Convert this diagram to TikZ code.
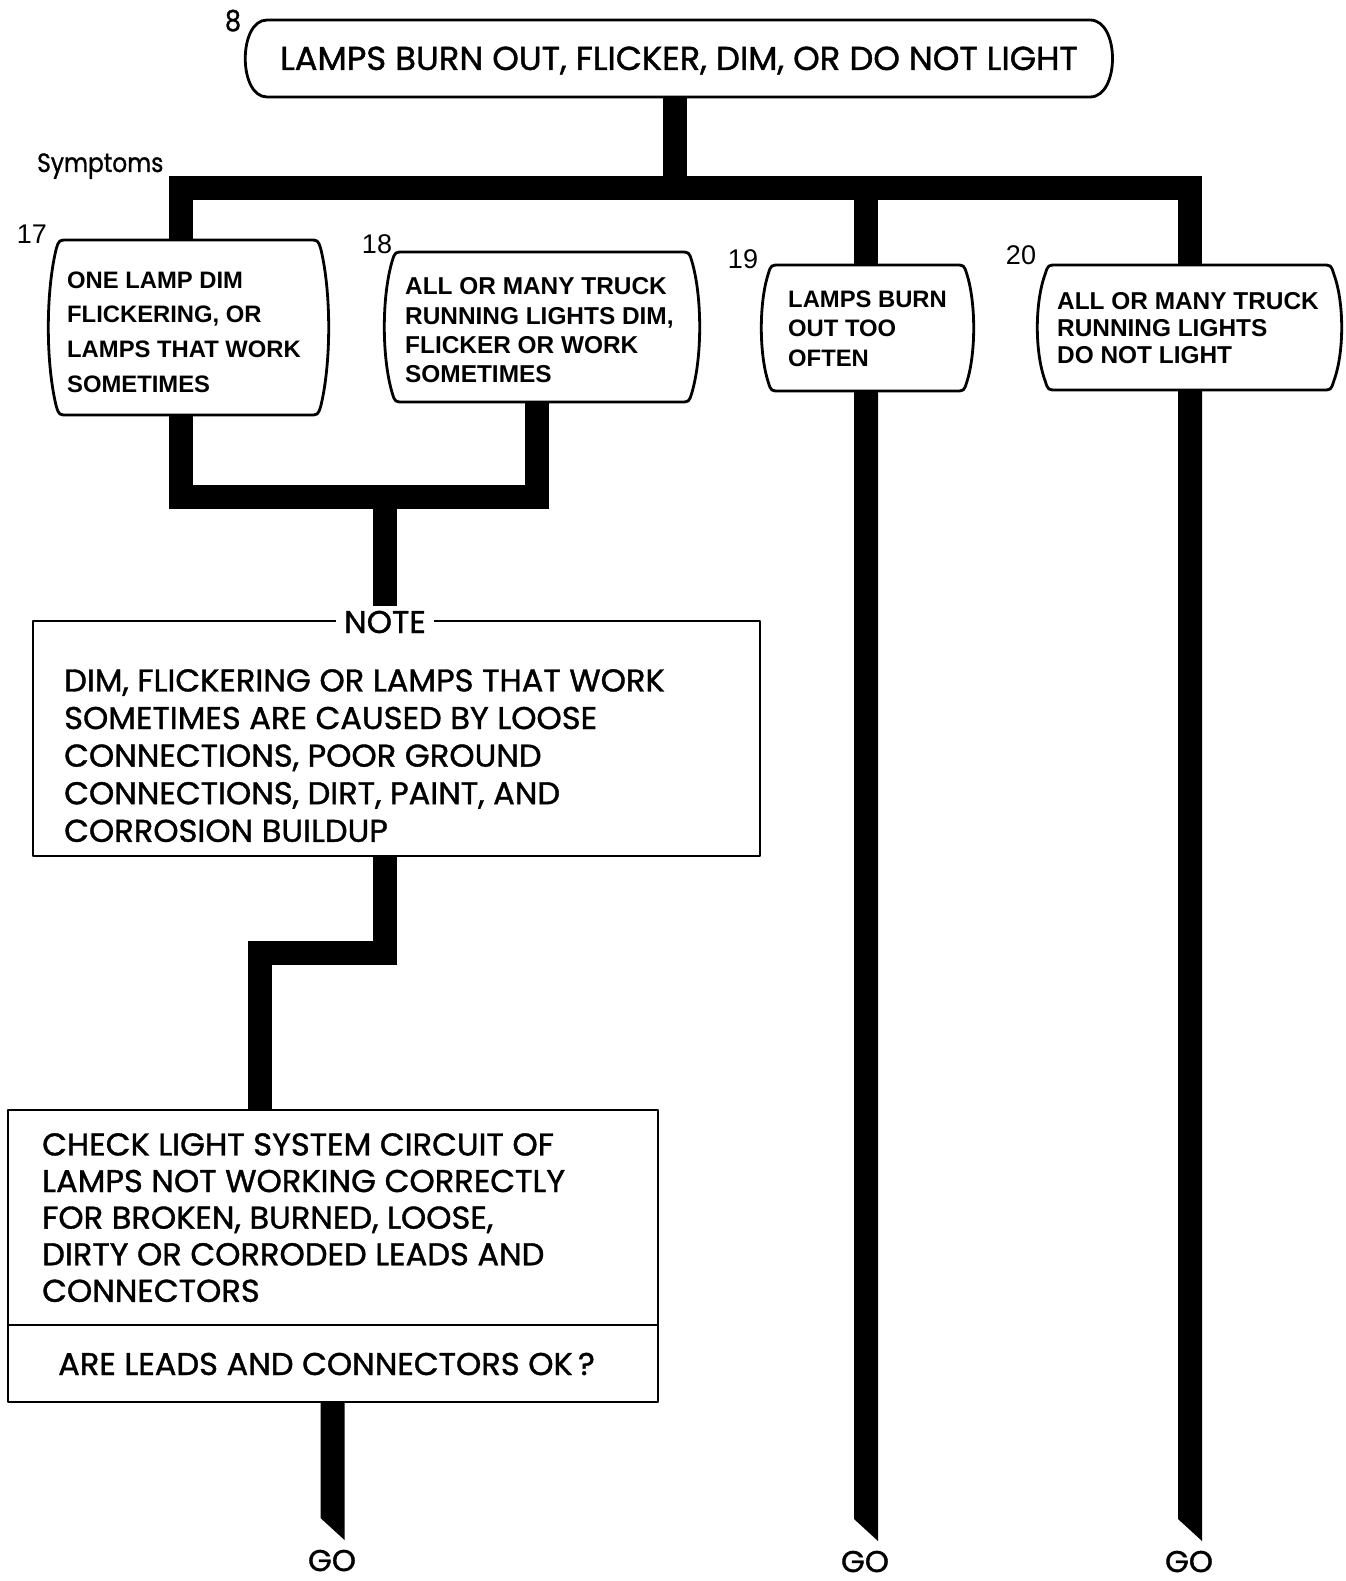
\documentclass[tikz,border=0pt]{standalone}
\usepackage{fontspec}
\setmainfont{Liberation Sans}
\newfontfamily\fut[FakeStretch=1.02,FakeBold=1.2]{Poppins}
\newfontfamily\futn[FakeStretch=0.88,FakeBold=1.0]{Poppins}
\newfontfamily\helv{Liberation Sans}
\usetikzlibrary{calc}
\tikzset{
  wire/.style={line width=24pt, line join=miter, line cap=butt},
  boxline/.style={line width=2.8pt, fill=white, line join=round},
  symtxt/.style={font=\helv\bfseries\fontsize{23.8}{#1}\selectfont, align=left, anchor=north west, inner sep=0pt},
  symtxtb/.style={font=\helv\bfseries\fontsize{24.4}{#1}\selectfont, align=left, anchor=north west, inner sep=0pt},
  futtxt/.style={font=\fut\fontsize{31.5}{#1}\selectfont, align=left, anchor=north west, inner sep=0pt},
  numtxt/.style={font=\helv\fontsize{27}{30}\selectfont, anchor=base, inner sep=0pt},
  gotxt/.style={font=\fut\fontsize{30}{32}\selectfont, anchor=base, inner sep=0pt}
}
\newcommand{\barrelbox}[5]{%
\draw[boxline] ({#1+#5+9},#2) -- ({#3-#5-9},#2)
 .. controls ({#3-#5},#2) .. ({#3-#5+2.8},{#2+9})
 .. controls ({#3+#5/3},{#2+0.3*(#4-#2)}) and ({#3+#5/3},{#4-0.3*(#4-#2)}) .. ({#3-#5+2.8},{#4-9})
 .. controls ({#3-#5},#4) .. ({#3-#5-9},#4)
 -- ({#1+#5+9},#4)
 .. controls ({#1+#5},#4) .. ({#1+#5-2.8},{#4-9})
 .. controls ({#1-#5/3},{#4-0.3*(#4-#2)}) and ({#1-#5/3},{#2+0.3*(#4-#2)}) .. ({#1+#5-2.8},{#2+9})
 .. controls ({#1+#5},#2) .. cycle;}
\newcommand{\tailline}[2]{%
\fill ($(#1)+(-12,0)$) -- ($(#1)+(12,0)$) -- ($(#2)+(12,11)$) -- ($(#2)+(-12,-11)$) -- cycle;}
\begin{document}
\begin{tikzpicture}[x=1pt,y=-1pt]
\useasboundingbox (0,0) rectangle (1345,1581);
% connection points
\coordinate (topB) at (675,97);
\coordinate (busL) at (181,188);
\coordinate (busM) at (675,188);
\coordinate (bus19) at (866,188);
\coordinate (busR) at (1190,188);
\coordinate (b17t) at (181,240);
\coordinate (b17b) at (181,415);
\coordinate (b18b) at (537,402);
\coordinate (b19t) at (866,265);
\coordinate (b19b) at (866,391);
\coordinate (b20t) at (1190,265);
\coordinate (b20b) at (1190,390);
\coordinate (lbL) at (181,497);
\coordinate (lbM) at (385,497);
\coordinate (lbR) at (537,497);
\coordinate (noteT) at (385,606);
\coordinate (noteB) at (385,856);
\coordinate (zR) at (385,953);
\coordinate (zL) at (260,953);
\coordinate (checkT) at (260,1110);
\coordinate (checkB) at (332.5,1402);
\coordinate (end1) at (332.5,1529);
\coordinate (end19) at (866,1530);
\coordinate (end20) at (1190,1530);
% thick connectors
\draw[wire] (topB) -- (busM);
\draw[wire] (b17t) -- (busL) -- (busR) -- (b20t);
\draw[wire] (bus19) -- (b19t);
\draw[wire] (b17b) -- (lbL) -- (lbR) -- (b18b);
\draw[wire] (lbM) -- (noteT);
\draw[wire] (noteB) -- (zR) -- (zL) -- (checkT);
\tailline{checkB}{end1}
\tailline{b19b}{end19}
\tailline{b20b}{end20}
% top box
\draw[boxline] (267,20) -- (1090,20) .. controls (1120,20) and (1120,97) .. (1090,97)
  -- (267,97) .. controls (238,97) and (238,20) .. cycle;
\node[font=\fut\fontsize{33.2}{36}\selectfont, anchor=base, inner sep=0pt] (toptext) at (679,70) {LAMPS BURN OUT, FLICKER, DIM, OR DO NOT LIGHT};
\node[font=\futn\fontsize{29}{30}\selectfont, anchor=base, inner sep=0pt] (n8) at (233,31) {8};
\node[font=\futn\fontsize{26.5}{28}\selectfont, anchor=base west, inner sep=0pt] (sym) at (37,172) {Symptoms};
% symptom boxes
\barrelbox{49}{240}{328}{415}{10}
\barrelbox{385}{252}{699}{402}{10}
\barrelbox{762}{265}{973}{391}{9}
\barrelbox{1038}{265}{1341}{390}{10}
\node[symtxt=34.6] (s17) at (67,271.5) {ONE LAMP DIM\\FLICKERING, OR\\LAMPS THAT WORK\\SOMETIMES};
\node[symtxtb=29.3] (s18) at (405,277.5) {ALL OR MANY TRUCK\\RUNNING LIGHTS DIM,\\FLICKER OR WORK\\SOMETIMES};
\node[symtxt=29.6] (s19) at (788,290.5) {LAMPS BURN\\OUT TOO\\OFTEN};
\node[symtxtb=26.8] (s20) at (1057,292.5) {ALL OR MANY TRUCK\\RUNNING LIGHTS\\DO NOT LIGHT};
\node[numtxt] (n17) at (32,243) {17};
\node[numtxt] (n18) at (377,253) {18};
\node[numtxt] (n19) at (743,268) {19};
\node[numtxt] (n20) at (1021,264) {20};
% note box
\draw[boxline] (33,621) rectangle (760,856);
\node[font=\fut\fontsize{31.5}{32}\selectfont, anchor=base, fill=white, inner xsep=8pt, inner ysep=3pt] (notelabel) at (385,633) {NOTE};
\node[futtxt=37.6] (note) at (64,669) {DIM, FLICKERING OR LAMPS THAT WORK\\SOMETIMES ARE CAUSED BY LOOSE\\CONNECTIONS, POOR GROUND\\CONNECTIONS, DIRT, PAINT, AND\\CORROSION BUILDUP};
% check box
\draw[boxline] (8,1110) rectangle (658,1402);
\draw[line width=2.8pt] (8,1325) -- (658,1325);
\node[futtxt=36.6] (check) at (42,1133) {CHECK LIGHT SYSTEM CIRCUIT OF\\LAMPS NOT WORKING CORRECTLY\\FOR BROKEN, BURNED, LOOSE,\\DIRTY OR CORRODED LEADS AND\\CONNECTORS};
\node[font=\fut\fontsize{31.5}{34}\selectfont, anchor=base west, inner sep=0pt] (question) at (58,1375) {ARE LEADS AND CONNECTORS OK\,?};
% GO labels
\node[gotxt] (go1) at (332,1571) {GO};
\node[gotxt] (go19) at (865,1572) {GO};
\node[gotxt] (go20) at (1189,1572) {GO};
\end{tikzpicture}
\end{document}
